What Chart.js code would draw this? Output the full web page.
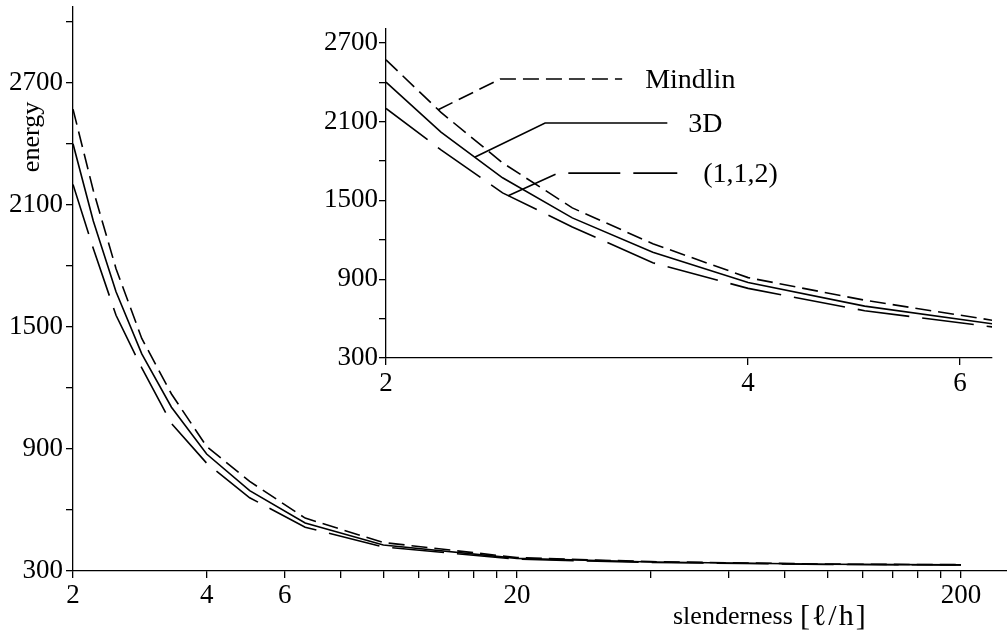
<!DOCTYPE html>
<html>
<head>
<meta charset="utf-8">
<script src="https://cdn.jsdelivr.net/npm/chart.js@4/dist/chart.umd.min.js"></script>
<style>
  body { margin: 0; background: #fff; }
  #wrap { position: relative; width: 1007px; height: 634px; background: #fff; }
  #main { position: absolute; left: 0; top: 0; width: 1007px; height: 634px; }
  #inset { position: absolute; left: 300px; top: 0; width: 707px; height: 410px; }
</style>
</head>
<body>
<div id="wrap">
  <canvas id="main" width="1007" height="634"></canvas>
  <canvas id="inset" width="707" height="410"></canvas>
</div>
<script>
// slenderness l/h and energies
var slenderness = [2, 2.222, 2.5, 2.857, 3.333, 4, 5, 6.667, 10, 20, 40, 100, 200]
var mindlin = [2570, 2170, 1786, 1443, 1170, 912, 740, 560, 440, 366, 346, 334, 331]
var threeD = [2400, 2020, 1672, 1367, 1105, 875, 695, 536, 428, 362, 344, 333, 330]
var model112 = [2200, 1885, 1557, 1298, 1025, 830, 660, 515, 418, 358, 342, 332, 330]
var seriesNames = ['Mindlin', '3D', '(1,1,2)']

var mainYTicks = [300, 600, 900, 1200, 1500, 1800, 2100, 2400, 2700, 3000]
var mainYLabels = [300, 900, 1500, 2100, 2700]
var mainXTicks = [2, 4, 6, 8, 10, 12, 14, 16, 18, 20, 40, 60, 80, 100, 120, 140, 160, 180, 200]
var mainXLabels = [2, 4, 6, 20, 200]

var insetYTicks = [300, 600, 900, 1200, 1500, 1800, 2100, 2400, 2700]
var insetYLabels = [300, 900, 1500, 2100, 2700]
var insetXTicks = [2, 4, 6]

// leader lines from each curve to its name in the inset (data units)
var mindlinLeader = [[2.21, 2190], [2.488, 2424], [3.143, 2424]]
var threeDLeader = [[2.372, 1830], [2.712, 2089], [3.427, 2089]]
var model112Leader = [[2.527, 1536], [2.78, 1708], [3.493, 1708]]

Chart.defaults.font.family = '"Liberation Serif", "Times New Roman", serif'
Chart.defaults.font.size = 27
Chart.defaults.color = '#000'

var dashes = [[16, 7], [], [52, 13]]

function pts(ys) {
    return slenderness.map(function (x, i) { return {x: x, y: ys[i]} })
}
function leaderPts(arr) {
    return arr.map(function (p) { return {x: p[0], y: p[1]} })
}
function lineSet(label, data, dash) {
    return {
        label: label,
        data: data,
        borderColor: '#000',
        borderWidth: 1.6,
        borderDash: dash,
        pointRadius: 0,
        fill: false,
        tension: 0
    }
}
function axisOpts(type, min, max, tickList, labelList, pad, fitSize, horizontal) {
    return {
        type: type,
        min: min,
        max: max,
        border: {display: true, color: '#000', width: 1.3},
        grid: {drawOnChartArea: false, drawTicks: true, tickLength: 7, color: '#000', lineWidth: 1.3},
        ticks: {
            autoSkip: false,
            maxRotation: 0,
            minRotation: 0,
            padding: pad,
            color: '#000',
            font: {size: 27},
            callback: function (v) { return labelList.indexOf(v) >= 0 ? String(v) : '' }
        },
        afterBuildTicks: function (scale) {
            scale.ticks = tickList.map(function (v) { return {value: v} })
        },
        afterFit: function (scale) {
            if (horizontal) scale.height = fitSize
            else scale.width = fitSize
            scale.paddingTop = 0
            scale.paddingBottom = 0
            scale.paddingLeft = 0
            scale.paddingRight = 0
        }
    }
}

var mainTitles = {
    id: 'mainTitles',
    afterDraw: function (chart) {
        var ctx = chart.ctx
        ctx.save()
        ctx.fillStyle = '#000'
        ctx.font = '26px "Liberation Serif"'
        ctx.translate(39, 137)
        ctx.rotate(-Math.PI / 2)
        ctx.textAlign = 'center'
        ctx.textBaseline = 'alphabetic'
        ctx.fillText('energy', 0, 0)
        ctx.restore()

        ctx.save()
        ctx.fillStyle = '#000'
        ctx.textAlign = 'left'
        ctx.textBaseline = 'alphabetic'
        ctx.font = '26px "Liberation Serif"'
        ctx.fillText('slenderness', 673, 624)
        ctx.font = '30px "Liberation Serif"'
        ctx.letterSpacing = '2px'
        ctx.fillText('[\u2113/h]', 800, 625)
        ctx.restore()
    }
}

var insetLabels = {
    id: 'insetLabels',
    afterDraw: function (chart) {
        var ctx = chart.ctx
        var xs = chart.scales.x, ys = chart.scales.y
        var ends = [mindlinLeader[2], threeDLeader[2], model112Leader[2]]
        var gaps = [23, 21, 26]
        ctx.save()
        ctx.fillStyle = '#000'
        ctx.font = '28px "Liberation Serif"'
        ctx.textAlign = 'left'
        ctx.textBaseline = 'middle'
        for (var i = 0; i < 3; i++) {
            ctx.fillText(seriesNames[i], xs.getPixelForValue(ends[i][0]) + gaps[i], ys.getPixelForValue(ends[i][1]) + 2)
        }
        ctx.restore()
    }
}

var mainChart = new Chart(document.getElementById('main').getContext('2d'), {
    type: 'line',
    data: {
        datasets: [
            lineSet(seriesNames[0], pts(mindlin), dashes[0]),
            lineSet(seriesNames[1], pts(threeD), dashes[1]),
            lineSet(seriesNames[2], pts(model112), dashes[2])
        ]
    },
    options: {
        responsive: false,
        animation: false,
        devicePixelRatio: 1,
        layout: {padding: {top: 7, right: 0, bottom: 0, left: 0}},
        plugins: {legend: {display: false}, tooltip: {enabled: false}},
        scales: {
            x: axisOpts('logarithmic', 2, 253.9, mainXTicks, mainXLabels, 2, 63, true),
            y: axisOpts('linear', 300, 3072, mainYTicks, mainYLabels, 3, 73, false)
        }
    },
    plugins: [mainTitles]
});

var insetChart = new Chart(document.getElementById('inset').getContext('2d'), {
    type: 'line',
    data: {
        datasets: [
            lineSet(seriesNames[0], pts(mindlin), dashes[0]),
            lineSet(seriesNames[1], pts(threeD), dashes[1]),
            lineSet(seriesNames[2], pts(model112), dashes[2]),
            lineSet('', leaderPts(mindlinLeader), dashes[0]),
            lineSet('', leaderPts(threeDLeader), dashes[1]),
            lineSet('', leaderPts(model112Leader), dashes[2])
        ]
    },
    options: {
        responsive: false,
        animation: false,
        devicePixelRatio: 1,
        layout: {padding: {top: 29, right: 15, bottom: 0, left: 0}},
        plugins: {legend: {display: false}, tooltip: {enabled: false}},
        scales: {
            x: axisOpts('logarithmic', 2, 6.38, insetXTicks, insetXTicks, 3, 52, true),
            y: axisOpts('linear', 300, 2805, insetYTicks, insetYLabels, 1, 86, false)
        }
    },
    plugins: [insetLabels]
});
</script>
</body>
</html>
